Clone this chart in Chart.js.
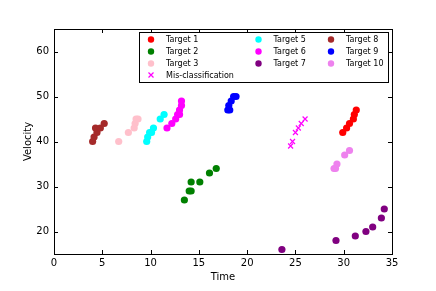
<!DOCTYPE html>
<html>
<head>
<meta charset="utf-8">
<script src="https://cdn.jsdelivr.net/npm/chart.js@4/dist/chart.umd.min.js"></script>
<style>
  html, body { margin: 0; padding: 0; background: #fff; }
  #wrap { width: 436px; height: 291px; }
</style>
</head>
<body>
<div id="wrap"><canvas id="chart" width="436" height="291"></canvas></div>
<script>
const xTicks = [0, 5, 10, 15, 20, 25, 30, 35];
const yTicks = [20, 30, 40, 50, 60];

const target1 = [[29.9, 42], [30.3, 43], [30.6, 44], [31.0, 45], [31.1, 46], [31.3, 47]];
const target2 = [[13.5, 27], [14.0, 29], [14.2, 29], [14.2, 31], [15.1, 31], [16.1, 33], [16.8, 34]];
const target3 = [[6.7, 40], [7.7, 42], [8.3, 43], [8.4, 44], [8.5, 45], [8.7, 45]];
const misclass = [[24.5, 39], [24.7, 40], [25.0, 42], [25.3, 43], [25.6, 44], [26.0, 45]];
const target5 = [[9.6, 40], [9.7, 41], [9.9, 42], [10.1, 42], [10.3, 43], [11.0, 45], [11.4, 46]];
const target6 = [[11.7, 43], [12.2, 44], [12.6, 45], [12.8, 46], [13.0, 46], [13.0, 47], [13.2, 48], [13.2, 49]];
const target7 = [[23.6, 16], [29.2, 18], [31.2, 19], [32.3, 20], [33.0, 21], [33.9, 23], [34.2, 25]];
const target8 = [[4.0, 40], [4.15, 41], [4.45, 42], [4.3, 43], [4.8, 43], [5.2, 44]];
const target9 = [[18.0, 47], [18.2, 47], [18.1, 48], [18.35, 49], [18.6, 50], [18.85, 50]];
const target10 = [[29.0, 34], [29.15, 34], [29.3, 35], [30.1, 37], [30.6, 38]];

const toXY = arr => arr.map(([x, y]) => ({ x, y }));

const series = [
  { label: 'Target 1', data: target1, color: '#ff0000' },
  { label: 'Target 2', data: target2, color: '#008000' },
  { label: 'Target 3', data: target3, color: '#ffc0cb' },
  { label: 'Mis-classification', data: misclass, color: '#ff00ff', style: 'crossRot' },
  { label: 'Target 5', data: target5, color: '#00ffff' },
  { label: 'Target 6', data: target6, color: '#ff00ff' },
  { label: 'Target 7', data: target7, color: '#800080' },
  { label: 'Target 8', data: target8, color: '#a52a2a' },
  { label: 'Target 9', data: target9, color: '#0000ff' },
  { label: 'Target 10', data: target10, color: '#ee82ee' }
];

const font = 'DejaVu Sans';

// box frame with inward ticks on all four sides
const framePlugin = {
  id: 'frame',
  afterDraw(chart) {
    const { ctx, chartArea: a, scales } = chart;
    ctx.save();
    ctx.strokeStyle = '#000';
    ctx.lineWidth = 1;
    ctx.strokeRect(a.left + 0.5, a.top + 0.5, a.right - a.left, a.bottom - a.top);
    ctx.beginPath();
    xTicks.forEach(v => {
      const px = Math.round(scales.x.getPixelForValue(v)) + 0.5;
      ctx.moveTo(px, a.bottom); ctx.lineTo(px, a.bottom - 4);
      ctx.moveTo(px, a.top); ctx.lineTo(px, a.top + 4);
    });
    yTicks.forEach(v => {
      const py = Math.round(scales.y.getPixelForValue(v)) + 0.5;
      ctx.moveTo(a.left, py); ctx.lineTo(a.left + 4, py);
      ctx.moveTo(a.right, py); ctx.lineTo(a.right - 4, py);
    });
    ctx.stroke();
    ctx.restore();
  }
};

// matplotlib style legend, 3 columns filled top to bottom
const legendPlugin = {
  id: 'mplLegend',
  afterDraw(chart) {
    const { ctx } = chart;
    const box = { left: 139.5, top: 32.5, width: 249, height: 50 };
    const cols = [[0, 1, 2, 3], [4, 5, 6], [7, 8, 9]];
    const colX = [151, 258.5, 331];
    const rowY = [39.5, 51.5, 63.5, 75];
    ctx.save();
    ctx.fillStyle = '#fff';
    ctx.fillRect(box.left, box.top, box.width, box.height);
    ctx.strokeStyle = '#000';
    ctx.lineWidth = 1;
    ctx.strokeRect(box.left, box.top, box.width, box.height);
    ctx.font = '8px "' + font + '"';
    ctx.textBaseline = 'middle';
    cols.forEach((idx, c) => {
      idx.forEach((i, r) => {
        const ds = chart.data.datasets[i];
        const x = colX[c], y = rowY[r];
        if (ds.pointStyle === 'crossRot') {
          ctx.strokeStyle = ds.borderColor;
          ctx.lineWidth = 1.2;
          ctx.beginPath();
          ctx.moveTo(x - 2.5, y - 2.5); ctx.lineTo(x + 2.5, y + 2.5);
          ctx.moveTo(x + 2.5, y - 2.5); ctx.lineTo(x - 2.5, y + 2.5);
          ctx.stroke();
        } else {
          ctx.fillStyle = ds.backgroundColor;
          ctx.beginPath();
          ctx.arc(x, y, 3.2, 0, Math.PI * 2);
          ctx.fill();
        }
        ctx.fillStyle = '#000';
        ctx.fillText(ds.label, x + 15, y + 0.5);
      });
    });
    ctx.restore();
  }
};

new Chart(document.getElementById('chart'), {
  type: 'scatter',
  data: {
    datasets: series.map(s => ({
      label: s.label,
      data: toXY(s.data),
      pointStyle: s.style || 'circle',
      pointRadius: s.style ? 3.5 : 3.6,
      borderWidth: s.style ? 1.2 : 0,
      backgroundColor: s.color,
      borderColor: s.color
    }))
  },
  options: {
    responsive: false,
    animation: false,
    layout: { padding: { left: 0, right: 44, top: 29, bottom: 0 } },
    plugins: { legend: { display: false }, tooltip: { enabled: false } },
    scales: {
      x: {
        type: 'linear', min: 0, max: 35,
        afterBuildTicks: s => { s.ticks = xTicks.map(v => ({ value: v })); },
        afterFit: s => { s.height = 37; },
        grid: { display: false, drawTicks: false },
        border: { display: false },
        ticks: { color: '#000', padding: 3, font: { family: font, size: 10 }, maxRotation: 0 },
        title: { display: true, text: 'Time', color: '#000', font: { family: font, size: 10 }, padding: { top: 0, bottom: 8 } }
      },
      y: {
        type: 'linear', min: 15, max: 65,
        afterBuildTicks: s => { s.ticks = yTicks.map(v => ({ value: v })); },
        afterFit: s => { s.width = 54; },
        grid: { display: false, drawTicks: false },
        border: { display: false },
        ticks: { color: '#000', padding: 5, font: { family: font, size: 10 } },
        title: { display: true, text: 'Velocity', color: '#000', font: { family: font, size: 10 }, padding: { top: 22, bottom: 0 } }
      }
    }
  },
  plugins: [framePlugin, legendPlugin]
});
</script>
</body>
</html>
